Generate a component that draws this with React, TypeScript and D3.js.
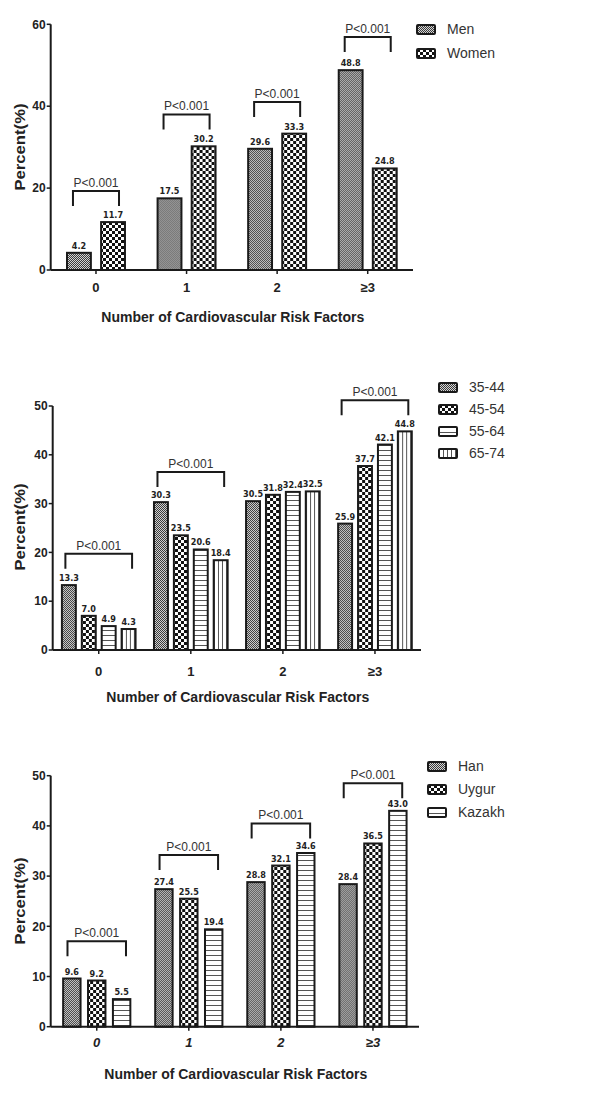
import React from 'react';
import * as d3 from 'd3';

// categories on the x axis (same for all three panels)
const CATEGORIES = ['0', '1', '2', '≥3'];

// panel A: sex
const SEX_SERIES = ['Men', 'Women'];
const MEN = [4.2, 17.5, 29.6, 48.8];
const WOMEN = [11.7, 30.2, 33.3, 24.8];
const SEX_BRACKETS = [19.3, 38, 41, 56.9];
const SEX_TICKS = [0, 20, 40, 60];

// panel B: age groups
const AGE_SERIES = ['35-44', '45-54', '55-64', '65-74'];
const AGE_35_44 = [13.3, 30.3, 30.5, 25.9];
const AGE_45_54 = [7.0, 23.5, 31.8, 37.7];
const AGE_55_64 = [4.9, 20.6, 32.4, 42.1];
const AGE_65_74 = [4.3, 18.4, 32.5, 44.8];
const AGE_BRACKETS = [19.7, 36.5, null, 51.2];
const AGE_TICKS = [0, 10, 20, 30, 40, 50];

// panel C: ethnicity
const ETH_SERIES = ['Han', 'Uygur', 'Kazakh'];
const HAN = [9.6, 27.4, 28.8, 28.4];
const UYGUR = [9.2, 25.5, 32.1, 36.5];
const KAZAKH = [5.5, 19.4, 34.6, 43.0];
const ETH_BRACKETS = [17, 34.2, 40.5, 48.5];
const ETH_TICKS = [0, 10, 20, 30, 40, 50];

const P_TEXT = 'P<0.001';
const X_TITLE = 'Number of Cardiovascular Risk Factors';
const Y_TITLE = 'Percent(%)';

const SANS = '"Liberation Sans", Arial, Helvetica, sans-serif';
const NARROW = '"Liberation Sans Narrow", "Arial Narrow", "DejaVu Sans Condensed", sans-serif';
const INK = '#1a1a1a';

function Patterns() {
  return (
    <defs>
      <pattern id="pat-dots" width="2" height="2" patternUnits="userSpaceOnUse">
        <rect width="2" height="2" fill="#d4d4d4" />
        <rect width="1" height="1" fill="#3a3a3a" />
        <rect x="1" y="1" width="1" height="1" fill="#3a3a3a" />
      </pattern>
      <pattern id="pat-checker" width="6" height="6" patternUnits="userSpaceOnUse">
        <rect width="6" height="6" fill="#fff" />
        <rect width="3" height="3" fill="#111" />
        <rect x="3" y="3" width="3" height="3" fill="#111" />
      </pattern>
      <pattern id="pat-hlines" width="4" height="5" patternUnits="userSpaceOnUse">
        <rect width="4" height="5" fill="#fff" />
        <rect width="4" height="1" fill="#555" />
      </pattern>
      <pattern id="pat-vlines" width="4" height="4" patternUnits="userSpaceOnUse">
        <rect width="4" height="4" fill="#fff" />
        <rect width="1" height="4" fill="#555" />
      </pattern>
    </defs>
  );
}

const PATTERNS = ['url(#pat-dots)', 'url(#pat-checker)', 'url(#pat-hlines)', 'url(#pat-vlines)'];

function Panel(props) {
  const {
    series, values, brackets, ticks,
    left, right, yBottom, yTop, groupFrac,
    legendX, legendY, legendStep, tickBaseline, titleBaseline, labelCenterY,
    italic,
  } = props;

  const yMax = ticks[ticks.length - 1];
  const y = d3.scaleLinear().domain([0, yMax]).range([yBottom, yTop]);
  const pad = 1 - groupFrac;
  const x0 = d3.scaleBand().domain(CATEGORIES).range([left, right]).paddingInner(pad).paddingOuter(pad / 2);
  const x1 = d3.scaleBand().domain(series).range([0, x0.bandwidth()]).paddingInner(0.3);
  const step = x0.step();
  const center = (c) => left + step * (CATEGORIES.indexOf(c) + 0.5);

  return (
    <g>
      {/* bars */}
      {CATEGORIES.map((c, ci) => (
        <g key={c} transform={`translate(${x0(c)},0)`}>
          {series.map((s, si) => {
            const v = values[si][ci];
            const bx = x1(s);
            return (
              <g key={s}>
                <rect x={bx} y={y(v)} width={x1.bandwidth()} height={yBottom - y(v)}
                  fill={PATTERNS[si]} stroke={INK} strokeWidth={2} />
                <text x={bx + x1.bandwidth() / 2} y={y(v) - 4} textAnchor="middle"
                  fontFamily={NARROW} fontWeight="bold" fontSize={9} fill="#222">{v.toFixed(1)}</text>
              </g>
            );
          })}
        </g>
      ))}

      {/* significance brackets */}
      {CATEGORIES.map((c, ci) => {
        const lvl = brackets[ci];
        if (lvl == null) return null;
        const bw = x1.bandwidth();
        const xa = x0(c) + x1(series[0]) + bw * 0.25;
        const xb = x0(c) + x1(series[series.length - 1]) + bw * 0.75;
        const yl = y(lvl);
        return (
          <g key={'b' + c}>
            <path d={`M${xa},${yl + 15}V${yl}H${xb}V${yl + 15}`} fill="none" stroke={INK} strokeWidth={2} />
            <text x={(xa + xb) / 2} y={yl - 4} textAnchor="middle" fontFamily={SANS} fontSize={12} fill="#333">{P_TEXT}</text>
          </g>
        );
      })}

      {/* y axis */}
      <line x1={left} x2={left} y1={yBottom} y2={yTop} stroke={INK} strokeWidth={2} />
      {ticks.map((t) => (
        <g key={t}>
          <line x1={left - 4} x2={left} y1={y(t)} y2={y(t)} stroke={INK} strokeWidth={1.5} />
          <text x={left - 5} y={y(t)} dy="0.35em" textAnchor="end" fontFamily={SANS} fontWeight="bold" fontSize={12} fill="#222">{t}</text>
        </g>
      ))}

      {/* x axis */}
      <line x1={left} x2={right} y1={yBottom} y2={yBottom} stroke={INK} strokeWidth={2} />
      {CATEGORIES.map((c) => (
        <g key={'t' + c}>
          <line x1={center(c)} x2={center(c)} y1={yBottom} y2={yBottom + 4} stroke={INK} strokeWidth={1.5} />
          <text x={center(c)} y={tickBaseline} textAnchor="middle" fontFamily={SANS} fontWeight="bold"
            fontStyle={italic ? 'italic' : 'normal'} fontSize={13} fill="#222">{c}</text>
        </g>
      ))}

      <text x={(left + right) / 2 + 1} y={titleBaseline} textAnchor="middle" fontFamily={SANS} fontWeight="bold" fontSize={14} fill="#222">{X_TITLE}</text>
      <text transform={`translate(25,${labelCenterY}) rotate(-90)`} textAnchor="middle" fontFamily={SANS}
        fontWeight="bold" fontSize={14} textLength={87} lengthAdjust="spacingAndGlyphs" fill="#222">{Y_TITLE}</text>

      {/* legend */}
      {series.map((s, si) => (
        <g key={'l' + s} transform={`translate(${legendX},${legendY + si * legendStep})`}>
          <rect x={0} y={0} width={18} height={9} rx={1} fill={PATTERNS[si]} stroke={INK} strokeWidth={2} />
          <text x={30} y={9} fontFamily={SANS} fontSize={14} fill="#333">{s}</text>
        </g>
      ))}
    </g>
  );
}

export default function App() {
  return (
    <svg width={600} height={1099} viewBox="0 0 600 1099"
      style={{ position: 'absolute', left: 0, top: 0, background: '#fff', display: 'block' }}>
      <Patterns />
      <rect width={600} height={1099} fill="#fff" />
      <Panel series={SEX_SERIES} values={[MEN, WOMEN]} brackets={SEX_BRACKETS} ticks={SEX_TICKS}
        left={50.7} right={413} yBottom={270} yTop={24.3} groupFrac={0.64}
        legendX={417} legendY={25} legendStep={24} tickBaseline={292} titleBaseline={322} labelCenterY={147} />
      <Panel series={AGE_SERIES} values={[AGE_35_44, AGE_45_54, AGE_55_64, AGE_65_74]} brackets={AGE_BRACKETS} ticks={AGE_TICKS}
        left={52.7} right={421} yBottom={650} yTop={406} groupFrac={0.8}
        legendX={439} legendY={383} legendStep={22} tickBaseline={676} titleBaseline={702} labelCenterY={527} />
      <Panel series={ETH_SERIES} values={[HAN, UYGUR, KAZAKH]} brackets={ETH_BRACKETS} ticks={ETH_TICKS}
        left={50.7} right={419} yBottom={1026.7} yTop={775.7} groupFrac={0.73}
        legendX={428} legendY={762} legendStep={23} tickBaseline={1047} titleBaseline={1079} labelCenterY={901} italic />
    </svg>
  );
}
